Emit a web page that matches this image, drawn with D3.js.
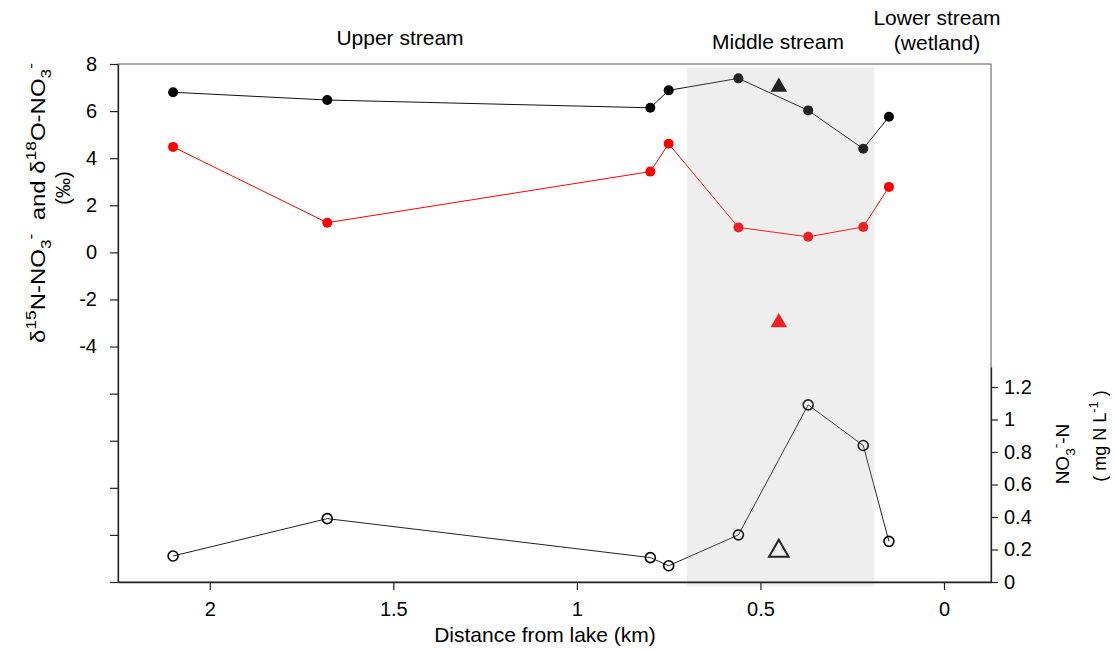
<!DOCTYPE html>
<html>
<head>
<meta charset="utf-8">
<script src="https://cdn.jsdelivr.net/npm/d3@7"></script>
<style>
  html, body { margin: 0; padding: 0; background: #fff; }
  svg { display: block; font-family: "Liberation Sans", Arial, sans-serif; }
</style>
</head>
<body>
<svg id="chart" width="1116" height="651"></svg>
<script>
// Sampling sites along the stream (km from the lake)
const distance = [2.1, 1.68, 0.8, 0.75, 0.56, 0.37, 0.22, 0.15];
// δ18O-NO3- (‰), black filled circles
const d18O = [6.8, 6.47, 6.14, 6.88, 7.39, 6.03, 4.40, 5.76];
// δ15N-NO3- (‰), red filled circles
const d15N = [4.48, 1.26, 3.43, 4.61, 1.06, 0.66, 1.08, 2.78];
// NO3--N concentration (mg N L-1), open circles
const nitrate = [0.16, 0.39, 0.15, 0.10, 0.29, 1.09, 0.84, 0.25];

// Single reference sample shown as triangles
const refDistance = [0.45];
const refD18O = [7.02];
const refD15N = [-2.98];
const refNitrate = [0.19];

// Middle-stream section (km)
const middleSection = [0.7, 0.19];

// Axis ticks
const xTicks = [2, 1.5, 1, 0.5, 0];
const leftTicks = [8, 6, 4, 2, 0, -2, -4, -6, -8, -10, -12, -14];
const leftLabelled = [8, 6, 4, 2, 0, -2, -4];
const rightTicks = [0, 0.2, 0.4, 0.6, 0.8, 1, 1.2];

const svg = d3.select("#chart");
const L = 118, R = 991, T = 64, B = 582;

const x = d3.scaleLinear().domain([2.25, -0.128]).range([L, R]);
const yIso = d3.scaleLinear().domain([-14, 8]).range([B, T]);
const yConc = d3.scaleLinear().domain([0, 1.323]).range([B, 367]);

// plot frame
svg.append("rect")
  .attr("x", L).attr("y", T).attr("width", R - L).attr("height", B - T)
  .attr("fill", "none").attr("stroke", "#555").attr("stroke-width", 1);

const iso = distance.map((d, i) => ({ d, o: d18O[i], n: d15N[i], c: nitrate[i] }));

// δ18O series
svg.append("path").datum(iso)
  .attr("fill", "none").attr("stroke", "#111").attr("stroke-width", 1)
  .attr("d", d3.line().x(p => x(p.d)).y(p => yIso(p.o)));
svg.append("g").selectAll("circle").data(iso).join("circle")
  .attr("cx", p => x(p.d)).attr("cy", p => yIso(p.o)).attr("r", 5)
  .attr("fill", "#000");

// δ15N series
svg.append("path").datum(iso)
  .attr("fill", "none").attr("stroke", "#ff0000").attr("stroke-width", 1)
  .attr("d", d3.line().x(p => x(p.d)).y(p => yIso(p.n)));
svg.append("g").selectAll("circle").data(iso).join("circle")
  .attr("cx", p => x(p.d)).attr("cy", p => yIso(p.n)).attr("r", 5)
  .attr("fill", "#ff0000");

// nitrate concentration
svg.append("path").datum(iso)
  .attr("fill", "none").attr("stroke", "#222").attr("stroke-width", 1)
  .attr("d", d3.line().x(p => x(p.d)).y(p => yConc(p.c)));
svg.append("g").selectAll("circle").data(iso).join("circle")
  .attr("cx", p => x(p.d)).attr("cy", p => yConc(p.c)).attr("r", 5)
  .attr("fill", "none").attr("stroke", "#000").attr("stroke-width", 1.6);

// reference sample triangles
const tri = d3.symbol().type(d3.symbolTriangle);
refDistance.forEach((d, i) => {
  svg.append("path").attr("d", tri.size(118)())
    .attr("transform", `translate(${x(d)},${yIso(refD18O[i])})`).attr("fill", "#000");
  svg.append("path").attr("d", tri.size(118)())
    .attr("transform", `translate(${x(d)},${yIso(refD15N[i])})`).attr("fill", "#ff0000");
  svg.append("path").attr("d", tri.size(165)())
    .attr("transform", `translate(${x(d)},${yConc(refNitrate[i])})`)
    .attr("fill", "none").attr("stroke", "#000").attr("stroke-width", 2);
});

// shaded middle-stream section, drawn as a translucent layer
svg.append("rect")
  .attr("x", x(middleSection[0])).attr("width", x(middleSection[1]) - x(middleSection[0]))
  .attr("y", yIso(7.87)).attr("height", yIso(-14.18) - yIso(7.87))
  .attr("fill", "rgb(170,170,170)").attr("fill-opacity", 0.2);

// axes
const axisStyle = g => {
  g.selectAll(".domain").attr("stroke", "#222").attr("stroke-width", 1.3);
  g.selectAll(".tick line").attr("stroke", "#222").attr("stroke-width", 1.2);
  g.selectAll("text").attr("font-family", "Liberation Sans, Arial, sans-serif")
    .attr("font-size", 20).attr("fill", "#000");
  g.selectAll(".tick text").filter(function () { return this.textContent === ""; }).remove();
};

svg.append("g").attr("transform", `translate(0,${B})`)
  .call(d3.axisBottom(x).tickValues(xTicks).tickSize(8).tickSizeOuter(0).tickPadding(12)
    .tickFormat(d => String(d)))
  .call(axisStyle);

svg.append("g").attr("transform", `translate(${L},0)`)
  .call(d3.axisLeft(yIso).tickValues(leftTicks).tickSize(8).tickSizeOuter(0).tickPadding(13)
    .tickFormat(d => leftLabelled.includes(d) ? String(d) : ""))
  .call(axisStyle);

svg.append("g").attr("transform", `translate(${R},0)`)
  .call(d3.axisRight(yConc).tickValues(rightTicks).tickSize(7).tickSizeOuter(0).tickPadding(6)
    .tickFormat(d => String(+d.toFixed(1))))
  .call(axisStyle);

// section labels
const label = (tx, ty, s) => svg.append("text")
  .attr("x", tx).attr("y", ty).attr("text-anchor", "middle")
  .attr("font-size", 21).attr("fill", "#000").text(s);
label(400, 45, "Upper stream");
label(778, 49, "Middle stream");
label(937, 25, "Lower stream");
label(937, 50, "(wetland)");

// x-axis title
label(545, 642, "Distance from lake (km)");

// rich text helper: parts are [text, "n" | "sup" | "sub"]
function rich(g, parts, size) {
  const t = g.append("text").attr("text-anchor", "middle").attr("font-size", size)
    .attr("fill", "#000").style("white-space", "pre");
  let shift = 0;
  parts.forEach(([s, kind]) => {
    const target = kind === "sup" ? -0.45 * size : kind === "sub" ? 0.3 * size : 0;
    t.append("tspan")
      .attr("dy", target - shift)
      .attr("font-size", kind === "n" ? size : size * 0.72)
      .text(s);
    shift = target;
  });
  return t;
}

// left axis title (stretched along its length)
const lt = svg.append("g").attr("transform", "translate(45,203) rotate(-90) scale(1.2,1)");
rich(lt, [["δ", "n"], ["15", "sup"], ["N-NO", "n"], ["3", "sub"], ["-", "sup"],
          ["  and δ", "n"], ["18", "sup"], ["O-NO", "n"], ["3", "sub"], ["-", "sup"]], 20);
svg.append("g").attr("transform", "translate(70,188) rotate(-90)")
  .append("text").attr("text-anchor", "middle").attr("font-size", 20).text("(‰)");

// right axis title
const rt = svg.append("g").attr("transform", "translate(1069,454) rotate(-90)");
rich(rt, [["NO", "n"], ["3", "sub"], ["-", "sup"], ["-N", "n"]], 19);
const rt2 = svg.append("g").attr("transform", "translate(1106,436) rotate(-90)");
rich(rt2, [["( mg N L", "n"], ["-1", "sup"], [" )", "n"]], 18);
</script>
</body>
</html>
